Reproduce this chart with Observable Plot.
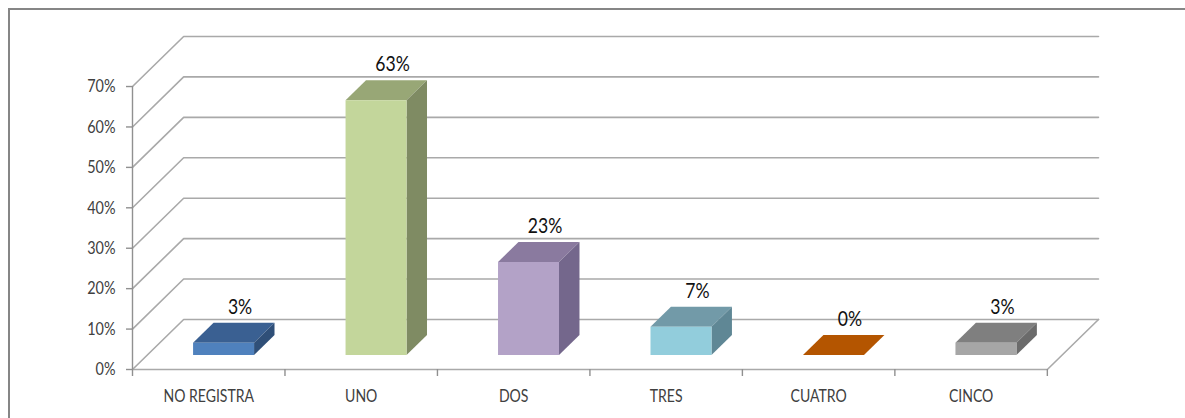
<!DOCTYPE html>
<html>
<head>
<meta charset="utf-8">
<script src="https://cdn.jsdelivr.net/npm/d3@7"></script>
<script src="https://cdn.jsdelivr.net/npm/@observablehq/plot@0.6"></script>
<style>
  html, body { margin: 0; padding: 0; background: #fff; overflow: hidden; }
  #chart { position: relative; width: 1185px; height: 418px; overflow: hidden; }
  #chart svg { position: absolute; left: 0; top: 0; }
  #border { position: absolute; left: 8px; top: 8px; width: 1300px; height: 500px; border: 2px solid #868686; }
</style>
</head>
<body>
<div id="chart"><div id="border"></div></div>
<script>
const categories = ["NO REGISTRA", "UNO", "DOS", "TRES", "CUATRO", "CINCO"];
const values = [3, 63, 23, 7, 0, 3];
const frontColors = ["#4f81bd", "#c3d69b", "#b3a2c7", "#92cddc", "#b45500", "#a6a6a6"];
const topColors = ["#3a6092", "#98a776", "#8a7a9f", "#729aa8", "#b45500", "#7f7f7f"];
const sideColors = ["#2f4f78", "#7f8b63", "#74678c", "#5f8795", "#b45500", "#6b6b6b"];
const yTicks = [0, 10, 20, 30, 40, 50, 60, 70];

// Oblique 3D: one unit of depth moves a point along both scales.
const depthX = 51 / 152;    // in category widths
const depthY = 50 / 4.04;   // in percentage points
const barInset = 0.3;       // gap on either side of a bar, in category widths
const barFront = 0.29, barBack = 0.69; // bar extent along the depth axis

const px = (cat, depth) => cat + depth * depthX;
const py = (v, depth) => v + depth * depthY;
const pt = (cat, v, depth) => ({x: px(cat, depth), y: py(v, depth)});

const n = categories.length;
const yMax = yTicks[yTicks.length - 1];

// Wall grid lines and the floor outline
const gridLines = yTicks.flatMap((t) => [pt(0, t, 0), pt(0, t, 1), pt(n, t, 1)].map((p) => ({...p, key: t})));
const floorEdge = [pt(n, 0, 1), pt(n, 0, 0), pt(0, 0, 0)];

// Three visible faces per bar
const faces = categories.flatMap((name, i) => {
  const a = i + barInset, b = i + 1 - barInset, v = values[i];
  const face = (kind, fill, pts) => pts.map((p) => ({...p, key: `${name}-${kind}`, fill}));
  const list = [
    face("top", topColors[i], [pt(a, v, barFront), pt(b, v, barFront), pt(b, v, barBack), pt(a, v, barBack)])
  ];
  if (v > 0) {
    list.push(face("side", sideColors[i], [pt(b, 0, barFront), pt(b, 0, barBack), pt(b, v, barBack), pt(b, v, barFront)]));
    list.push(face("front", frontColors[i], [pt(a, 0, barFront), pt(b, 0, barFront), pt(b, v, barFront), pt(a, v, barFront)]));
  }
  return list.flat();
});

const labels = categories.map((name, i) => ({
  name,
  v: values[i],
  ...pt(i + 0.5, values[i], barBack)
}));

const plot = Plot.plot({
  width: 1185,
  height: 418,
  marginLeft: 132,
  marginRight: 1185 - 1098,
  marginTop: 36,
  marginBottom: 418 - 369,
  style: {background: "transparent", fontFamily: "Lato, sans-serif"},
  x: {domain: [0, px(n, 1)], axis: null},
  y: {domain: [0, py(yMax, 1)], axis: null},
  marks: [
    Plot.line(gridLines, {x: "x", y: "y", z: "key", stroke: "#a9a9a9", strokeWidth: 1.6}),
    Plot.line(floorEdge, {x: "x", y: "y", stroke: "#a9a9a9", strokeWidth: 1.6}),
    // Front vertical axis with outward ticks and percentage labels
    Plot.ruleX([0], {y1: 0, y2: yMax, stroke: "#909090", strokeWidth: 1.4}),
    Plot.axisY({ticks: yTicks, tickFormat: (d) => d + "%", tickSize: 6, tickPadding: 11, label: null,
      fontSize: 18, fill: "#404040", stroke: "#909090", strokeWidth: 1.4, className: "narrow-ticks"}),
    // Category boundaries along the floor
    Plot.axisX({ticks: d3.range(n + 1), tickFormat: () => "", tickSize: 7, label: null,
      stroke: "#909090", strokeWidth: 1.4}),
    Plot.text(categories, {x: (d, i) => i + 0.5, y: 0, text: (d) => d, dy: 27, fontSize: 18, fill: "#404040", className: "narrow-cats"}),
    Plot.line(faces, {x: "x", y: "y", z: "key", fill: "fill", stroke: null}),
    Plot.text(labels, {x: "x", y: "y", text: (d) => d.v + "%", dx: -4, dy: -16, fontSize: 22, fill: "#111", className: "narrow-values"})
  ]
});

document.getElementById("chart").appendChild(plot);

// Condense the labels horizontally once they are measurable in the page
const squeeze = (selector, ratio) => {
  plot.querySelectorAll(selector).forEach((t) => {
    if (!t.textContent) return;
    t.setAttribute("textLength", t.getComputedTextLength() * ratio);
    t.setAttribute("lengthAdjust", "spacingAndGlyphs");
  });
};
squeeze(".narrow-ticks text", 0.8);
squeeze(".narrow-cats text", 0.78);
squeeze(".narrow-values text", 0.8);
</script>
</body>
</html>
